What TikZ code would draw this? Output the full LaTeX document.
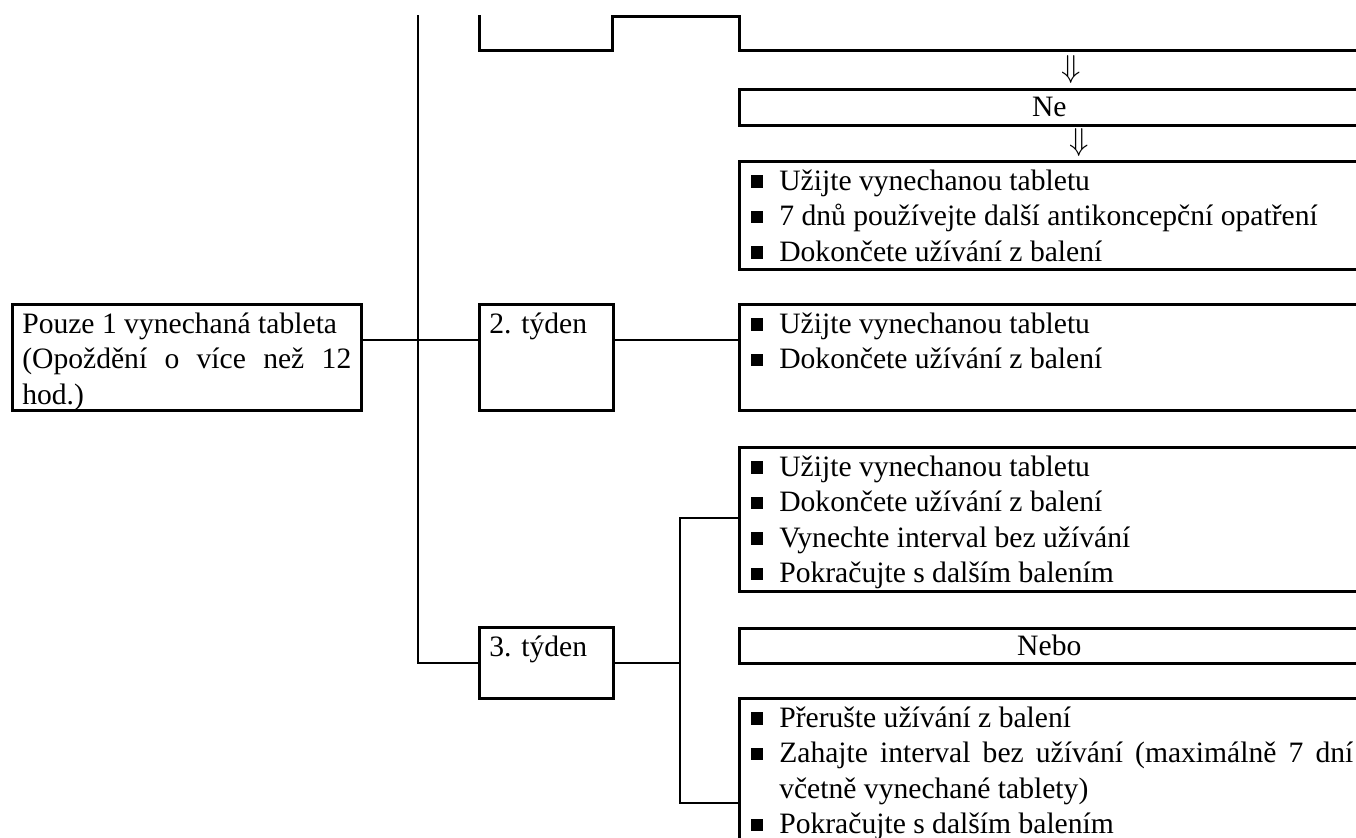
\documentclass[tikz,border=0pt]{standalone}
\usepackage{fontspec}
\setmainfont{Liberation Serif}
\newcommand{\sqitem}[1]{\noindent\hangindent=17pt\hangafter=1\makebox[17pt][l]{\hspace{3pt}\rule[1.3pt]{6pt}{6.3pt}}#1\par}

\begin{document}
\begin{tikzpicture}[x=0.5pt,y=-0.5pt]
      \tikzset{every node/.style={font=\fontsize{14.8pt}{17.75pt}\selectfont},
        box/.style={draw,line width=1.3pt,anchor=north west,inner xsep=5pt,inner ysep=0pt,text height=14.5pt,align=justify},
        list/.style={box,inner xsep=3pt,text width=304pt},
        bar/.style={draw,line width=1.3pt,anchor=north west,inner sep=0pt,text width=310pt,align=center},
        stub/.style={draw,line width=1.3pt,anchor=south west,inner sep=0pt,minimum height=30pt},
        link/.style={line width=1.3pt}}
      \useasboundingbox (0,0) rectangle (1356,837);
      \clip (0,15) rectangle (1356,837);
      \node[box,text width=164.5pt,text depth=38.5pt] (miss) at (11,303) {Pouze 1 vynechaná tableta\newline (Opoždění o více než 12\linebreak hod.)};
      \node[stub,minimum width=66.5pt] (wk1) at (478,52) {};
      \node[stub,minimum width=310pt] (ask) at (738,52) {};
      \node[box,text width=57pt,text depth=38.5pt] (wk2) at (478,303) {2. týden};
      \node[box,text width=57pt,text depth=21pt] (wk3) at (478,626) {3. týden};
      \node[scale=1.1] (dn1) at (1071,70) {$\Downarrow$};
      \node[bar,minimum height=18pt] (no) at (738,88) {Ne};
      \node[scale=1.1] (dn2) at (1079,143) {$\Downarrow$};
      \node[list,text depth=39.5pt] (act1) at (738,160) {\sqitem{Užijte vynechanou tabletu}\sqitem{7 dnů používejte další antikoncepční opatření}\sqitem{Dokončete užívání z balení}};
      \node[list,text depth=38.5pt] (act2) at (738,303) {\sqitem{Užijte vynechanou tabletu}\sqitem{Dokončete užívání z balení}};
      \node[list,text depth=57.5pt] (act3) at (738,446) {\sqitem{Užijte vynechanou tabletu}\sqitem{Dokončete užívání z balení}\sqitem{Vynechte interval bez užívání}\sqitem{Pokračujte s dalším balením}};
      \node[bar,minimum height=17.5pt] (or) at (738,627) {Nebo};
      \node[list,text depth=65pt] (act4) at (738,697) {\sqitem{Přerušte užívání z balení}\sqitem{Zahajte interval bez užívání (maximálně 7 dní\linebreak včetně vynechané tablety)}\sqitem{Pokračujte s dalším balením}};
      \coordinate (j1) at (611,16.5);
      \coordinate (top) at (418,10);
      \coordinate (j2) at (418,340);
      \coordinate (f3) at (680,518);
      \coordinate (f4) at (680,803);
      \draw[link] (wk1.east |- j1) -- (ask.west |- j1);
      \draw[link] (top) |- (wk3.west);
      \draw[link] (miss.east |- j2) -- (wk2.west |- j2);
      \draw[link] (wk2.east |- j2) -- (act2.west |- j2);
      \draw[link] (wk3.east) -- (f3 |- wk3.east);
      \draw[link] (act3.west |- f3) -| (f4) -- (act4.west |- f4);
    \end{tikzpicture}
\end{document}
